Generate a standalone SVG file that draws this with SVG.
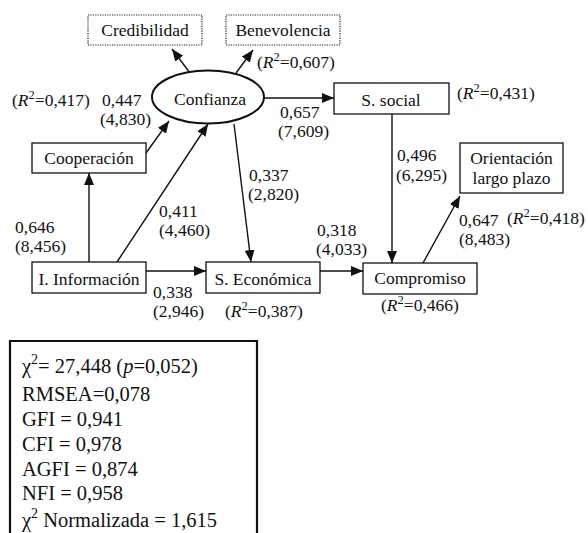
<svg xmlns="http://www.w3.org/2000/svg" width="588" height="533" viewBox="0 0 588 533" font-family="Liberation Serif">
<defs>
<style>
text{font-size:17.5px;fill:#111}
.c{text-anchor:middle}
.box{fill:#fff;stroke:#111;stroke-width:1.3}
.dot{fill:#fff;stroke:#222;stroke-width:1.2;stroke-dasharray:1.2 1.2}
.ln{stroke:#111;stroke-width:1.4;fill:none;marker-end:url(#ah)}
.st{font-size:20.5px}
</style>
<marker id="ah" viewBox="0 0 12 10" refX="12" refY="5" markerWidth="12" markerHeight="10" markerUnits="userSpaceOnUse" orient="auto">
<path d="M0,0 L12,5 L0,10 Z" fill="#111"/>
</marker>
</defs>
<rect width="588" height="533" fill="#fff"/>
<g font-family="Liberation Serif, serif">
<g id="connectors">
<line class="ln" x1="190" y1="73" x2="172" y2="49"/>
<line class="ln" x1="236" y1="73" x2="253" y2="50"/>
<line class="ln" x1="264" y1="98" x2="334" y2="98"/>
<line class="ln" x1="146" y1="153" x2="169" y2="121"/>
<line class="ln" x1="117" y1="262" x2="208" y2="124"/>
<line class="ln" x1="89" y1="262" x2="89" y2="173"/>
<line class="ln" x1="146" y1="271" x2="206" y2="271"/>
<line class="ln" x1="234" y1="124" x2="251" y2="262"/>
<line class="ln" x1="320" y1="271" x2="363" y2="271"/>
<line class="ln" x1="392" y1="114" x2="392" y2="263"/>
<line class="ln" x1="423" y1="263" x2="460" y2="196"/>
</g>

<g id="credibilidad">
<rect class="dot" x="88" y="15" width="114" height="30"/>
<text class="c" x="145" y="35.5">Credibilidad</text>
</g>
<g id="benevolencia">
<rect class="dot" x="226" y="15" width="114" height="30"/>
<text class="c" x="283" y="35.5">Benevolencia</text>
</g>
<g id="confianza">
<ellipse cx="208" cy="97" rx="56" ry="26.5" fill="#fff" stroke="#111" stroke-width="2"/>
<text class="c" x="210" y="105">Confianza</text>
</g>
<g id="s-social">
<rect class="box" x="334" y="83" width="115" height="31"/>
<text class="c" x="391" y="106">S. social</text>
</g>
<g id="cooperacion">
<rect class="box" x="32" y="143" width="114" height="30"/>
<text class="c" x="89" y="164">Cooperación</text>
</g>
<g id="orientacion">
<rect class="box" x="460" y="143" width="103" height="50"/>
<text class="c" x="511.5" y="164">Orientación</text>
<text class="c" x="511.5" y="184">largo plazo</text>
</g>
<g id="informacion">
<rect class="box" x="32" y="262" width="114" height="31"/>
<text class="c" x="89" y="285">I. Información</text>
</g>
<g id="s-economica">
<rect class="box" x="206" y="262" width="114" height="31"/>
<text class="c" x="263" y="285">S. Económica</text>
</g>
<g id="compromiso">
<rect class="box" x="363" y="263" width="114" height="31"/>
<text class="c" x="420" y="284">Compromiso</text>
</g>

<g id="labels">
<text x="257" y="68">(<tspan font-style="italic">R</tspan><tspan dy="-7" font-size="12.5">2</tspan><tspan dy="7">=0,607)</tspan></text>
<text x="12" y="106">(<tspan font-style="italic">R</tspan><tspan dy="-7" font-size="12.5">2</tspan><tspan dy="7">=0,417)</tspan></text>
<text x="102" y="106">0,447</text>
<text x="100" y="125">(4,830)</text>
<text x="280" y="118">0,657</text>
<text x="278" y="137">(7,609)</text>
<text x="457" y="99">(<tspan font-style="italic">R</tspan><tspan dy="-7" font-size="12.5">2</tspan><tspan dy="7">=0,431)</tspan></text>
<text x="397" y="161">0,496</text>
<text x="396" y="181">(6,295)</text>
<text x="249" y="181">0,337</text>
<text x="248" y="200">(2,820)</text>
<text x="15" y="233">0,646</text>
<text x="15" y="252">(8,456)</text>
<text x="159" y="217">0,411</text>
<text x="159" y="236">(4,460)</text>
<text x="459" y="226">0,647</text>
<text x="507" y="224">(<tspan font-style="italic">R</tspan><tspan dy="-7" font-size="12.5">2</tspan><tspan dy="7">=0,418)</tspan></text>
<text x="459" y="245">(8,483)</text>
<text x="317" y="236">0,318</text>
<text x="316" y="255">(4,033)</text>
<text x="153" y="298">0,338</text>
<text x="153" y="317">(2,946)</text>
<text x="225" y="317">(<tspan font-style="italic">R</tspan><tspan dy="-7" font-size="12.5">2</tspan><tspan dy="7">=0,387)</tspan></text>
<text x="381" y="311">(<tspan font-style="italic">R</tspan><tspan dy="-7" font-size="12.5">2</tspan><tspan dy="7">=0,466)</tspan></text>
</g>

<g id="fit-indices">
<path d="M10,540 V341 H257 V540" fill="none" stroke="#111" stroke-width="2.2"/>
<text class="st" x="22" y="373">χ<tspan dy="-9" font-size="14">2</tspan><tspan dy="9">= 27,448 (</tspan><tspan font-style="italic">p</tspan>=0,052)</text>
<text class="st" x="22" y="401">RMSEA=0,078</text>
<text class="st" x="22" y="426">GFI = 0,941</text>
<text class="st" x="22" y="451">CFI = 0,978</text>
<text class="st" x="22" y="476">AGFI = 0,874</text>
<text class="st" x="22" y="500">NFI = 0,958</text>
<text class="st" x="22" y="527">χ<tspan dy="-9" font-size="14">2</tspan><tspan dy="9"> Normalizada = 1,615</tspan></text>
</g>
</g>
</svg>
